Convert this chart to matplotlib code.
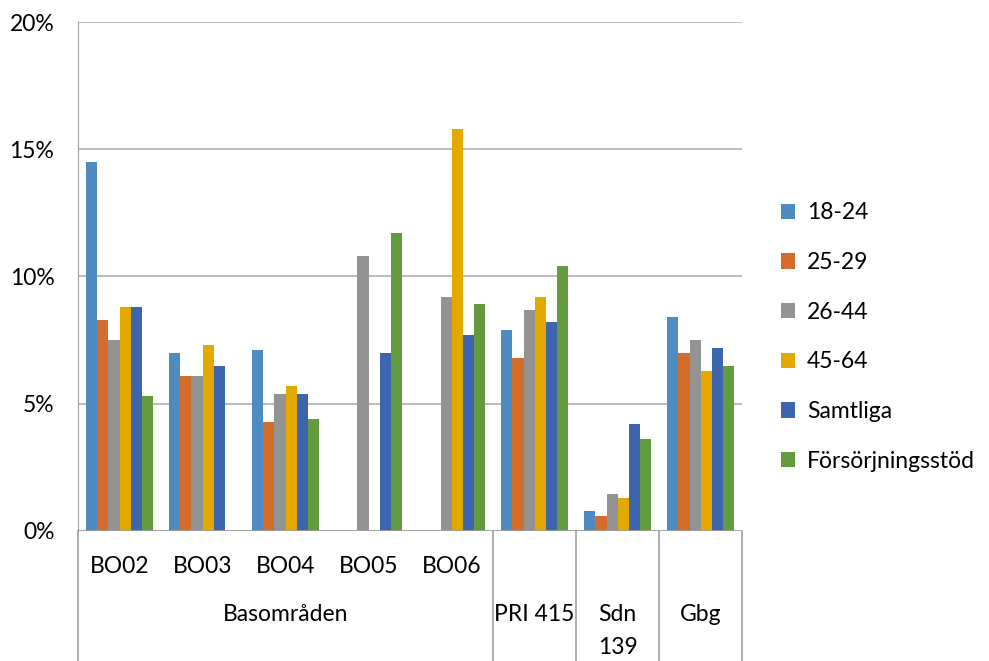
import matplotlib.pyplot as plt
import matplotlib.transforms as mtransforms
import numpy as np

plt.rcParams['font.family'] = ['Lato', 'DejaVu Sans']

kategorier = ["BO02", "BO03", "BO04", "BO05", "BO06", "PRI 415", "Sdn\n139", "Gbg"]
serier = ["18-24", "25-29", "26-44", "45-64", "Samtliga", "Försörjningsstöd"]
farger = ["#4f8bc0", "#d46d2b", "#939393", "#e3a900", "#3d65ad", "#639c3e"]

# värden i procent (nan = saknas)
v_18_24 = [14.5, 7.0, 7.1, np.nan, np.nan, 7.9, 0.8, 8.4]
v_25_29 = [8.3, 6.1, 4.3, np.nan, np.nan, 6.8, 0.6, 7.0]
v_26_44 = [7.5, 6.1, 5.4, 10.8, 9.2, 8.7, 1.45, 7.5]
v_45_64 = [8.8, 7.3, 5.7, np.nan, 15.8, 9.2, 1.3, 6.3]
v_samtliga = [8.8, 6.5, 5.4, 7.0, 7.7, 8.2, 4.2, 7.2]
v_forsorjning = [5.3, np.nan, 4.4, 11.7, 8.9, 10.4, 3.6, 6.5]
varden = [v_18_24, v_25_29, v_26_44, v_45_64, v_samtliga, v_forsorjning]

fs = 16.5

fig = plt.figure(figsize=(9.89, 6.61), dpi=100)
ax = fig.add_axes([0.0789, 0.1967, 0.6714, 0.77])

x = np.arange(len(kategorier))
bredd = 0.133
for i, (namn, vals, f) in enumerate(zip(serier, varden, farger)):
    ax.bar(x + (i - 2.5) * bredd, vals, bredd, color=f, label=namn, zorder=3)

ax.set_xlim(-0.5, len(kategorier) - 0.5)
ax.set_ylim(0, 20)
ax.set_yticks([0, 5, 10, 15, 20])
ax.set_yticklabels(["0%", "5%", "10%", "15%", "20%"], fontsize=fs)
ax.tick_params(axis='y', length=0, pad=17)
ax.set_xticks([])
ax.grid(axis='y', color="#b0b0b0", linewidth=1.2, zorder=0)
for s in ["top", "right", "bottom"]:
    ax.spines[s].set_visible(False)
ax.spines["left"].set_color("#a0a0a0")
ax.axhline(0, color="#a0a0a0", linewidth=1.2, zorder=4)

# kategoriaxel under diagrammet
trans = mtransforms.blended_transform_factory(ax.transData, ax.transAxes)
botten = -0.256
for xl in [-0.5, 4.5, 5.5, 6.5, 7.5]:
    ax.plot([xl, xl], [0, botten], color="#a0a0a0", linewidth=1.2,
            transform=trans, clip_on=False)
for i, k in enumerate(kategorier[:5]):
    ax.text(i, -0.069, k, transform=trans, ha='center', va='center', fontsize=fs)
ax.text(2, -0.165, "Basområden", transform=trans, ha='center', va='center', fontsize=fs)
ax.text(5, -0.165, kategorier[5], transform=trans, ha='center', va='center', fontsize=fs)
ax.text(6, -0.165, "Sdn", transform=trans, ha='center', va='center', fontsize=fs)
ax.text(6, -0.228, "139", transform=trans, ha='center', va='center', fontsize=fs)
ax.text(7, -0.165, kategorier[7], transform=trans, ha='center', va='center', fontsize=fs)

fig.legend(loc='center left', bbox_to_anchor=(0.78, 0.49), frameon=False,
           fontsize=fs, handlelength=0.65, handleheight=0.65, labelspacing=1.25,
           handletextpad=0.5, borderaxespad=0)

fig.savefig("out.png", dpi=100)
